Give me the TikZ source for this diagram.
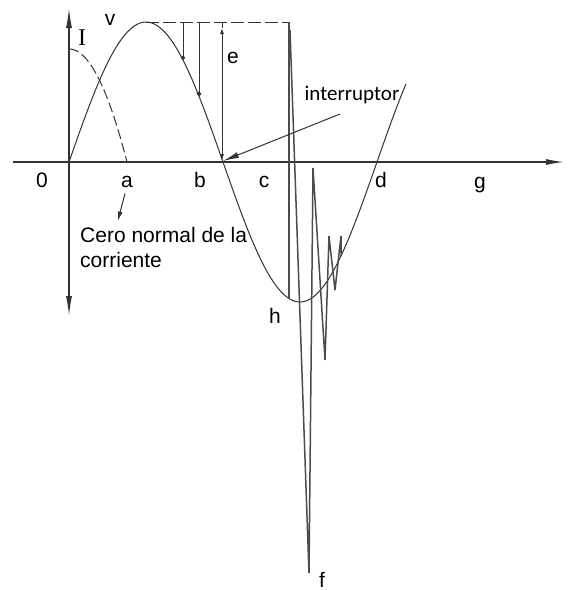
\documentclass[tikz,border=0pt]{standalone}
\usepackage{fontspec}
\setmainfont{Liberation Sans}
\newfontfamily\calibfont{Carlito}
\newfontfamily\romfont{Liberation Serif}
\usetikzlibrary{arrows.meta}

\tikzset{
  lbl/.style={font=\fontsize{21}{25}\selectfont,inner sep=0pt,anchor=base},
  axis/.style={black!80,line width=1.3pt},
  curve/.style={black!80,line width=1pt},
  spike/.style={black!70,line width=1.5pt,line join=bevel},
}

\begin{document}
\begin{tikzpicture}[x=1pt,y=-1pt]
 \useasboundingbox (0,0) rectangle (572,590);
 \coordinate (xl) at (13,162); \coordinate (xr) at (564,162);
 \coordinate (yt) at (69,8);   \coordinate (yb) at (69,316);
 \draw[axis,-{Latex[length=18pt,width=6pt]}] (xl) -- (xr);
 \draw[axis,{Latex[length=20pt,width=6pt]}-{Latex[length=20pt,width=6pt]}] (yb) -- (yt);
 \draw[curve,domain=69:406,samples=120,smooth] plot (\x,{162-140*sin(1.168831*(\x-69))});
 \draw[curve,dash pattern=on 10pt off 4pt,domain=0:1,samples=30,smooth] plot ({69+58*\x},{49+113*\x*\x});
 \draw[curve,dash pattern=on 13pt off 4pt] (146,22) -- (289,22);
 \foreach \px in {183,199}
  \draw[curve,-{Circle[length=4.5pt]}] (\px,22) -- (\px,{162-140*sin(1.168831*(\px-69))});
 \draw[curve] (222,22) -- (222,28);
 \draw[curve,{Latex[length=6pt,width=4pt]}-{Latex[length=7pt,width=4pt]}] (222,28) -- (222,161);
 \draw[spike] (289,22) -- (289,298);
 \draw[spike] (290,30) -- (309,573) -- (313,168) -- (325,360) -- (329,236) -- (335,290) -- (341,236) -- (341,256);
 \foreach \nm/\px/\py/\tx in {n0/42/187/0,na/127/187/a,nb/200/187/b,nc/264/187/c,nd/381/187/d,
   ng/480/188/g,nh/275/323/h,nf/322/587/f,ne/233/63/e,nv/110/25/v}
  \node[lbl] (\nm) at (\px,\py) {\tx};
 \node[lbl,font=\romfont\fontsize{24}{28}\selectfont] (nI) at (82,45) {I};
 \node[lbl,anchor=base west] (cero) at (80,242) {Cero normal de la};
 \node[lbl,anchor=base west] (corr) at (80,267) {corriente};
 \draw[curve,-{Latex[length=9pt,width=5pt]}] ([shift={(-2,6)}]na.south) -- ([shift={(38,-6)}]cero.north west);
 \node[lbl,font=\calibfont\fontsize{21}{25}\selectfont] (intr) at (352,100) {interruptor};
 \coordinate (intrs) at (340,114); \coordinate (brk) at (223,161);
 \draw[curve,-{Latex[length=16pt,width=6pt]}] (intrs) -- (brk);
\end{tikzpicture}
\end{document}
